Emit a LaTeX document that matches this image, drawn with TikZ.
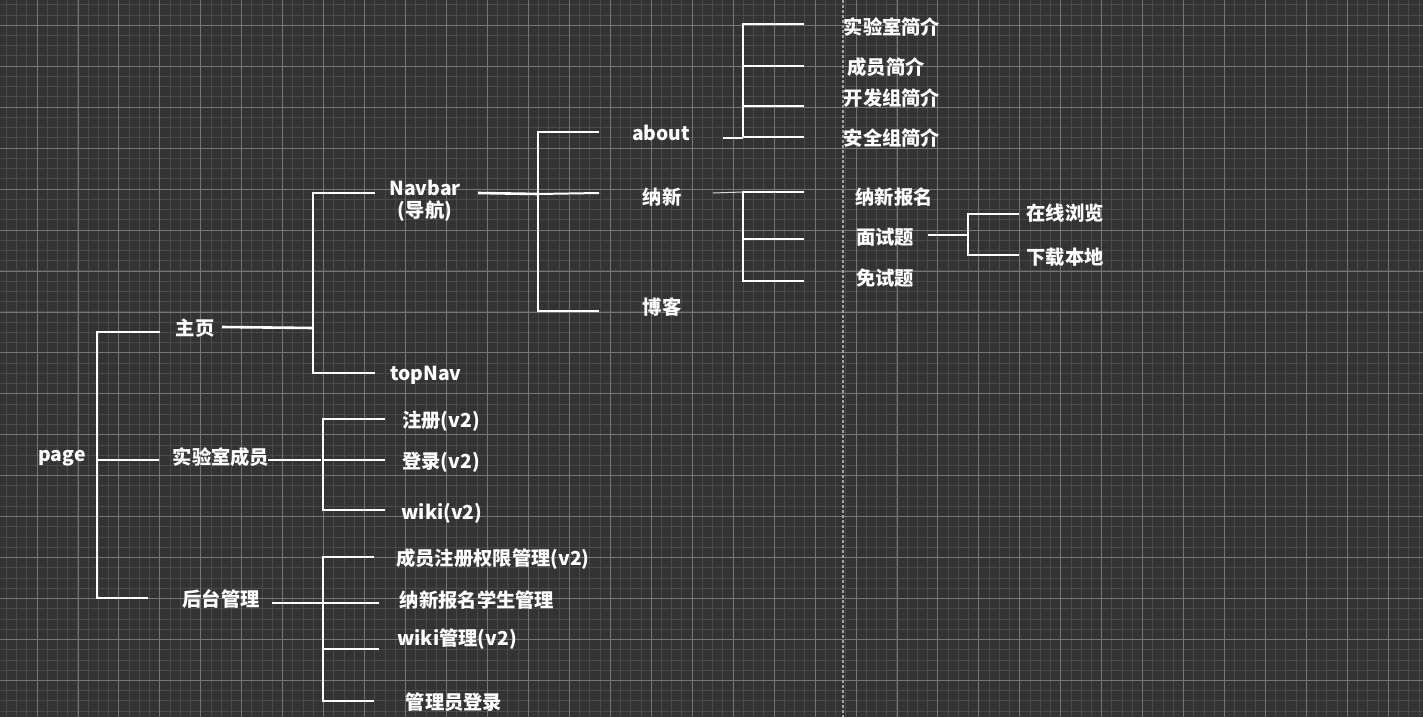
\documentclass[tikz,border=0pt]{standalone}
\usepackage{fontspec}
\setmainfont{Noto Sans CJK SC}
\begin{document}
\begin{tikzpicture}[x=1pt,y=-1pt,
  lbl/.style={text=white,font=\fontsize{19.3}{21}\selectfont\bfseries,inner sep=0pt,anchor=center,align=center},
  br/.style={draw=white,line width=2pt},
  stub/.style={draw=white,line width=2.6pt},
  thinstub/.style={draw=white!85!black,line width=1pt}]
\definecolor{bg}{HTML}{333333}
\definecolor{gminor}{HTML}{4A4A4A}
\definecolor{gmajor}{HTML}{767676}
\useasboundingbox (0,0) rectangle (1423,717);
\fill[bg] (0,0) rectangle (1423,717);
% minor grid
\foreach \i in {0,...,139} {
  \pgfmathsetmacro{\gx}{6.29+10.2375*\i}
  \draw[gminor,line width=1pt] (\gx,0) -- (\gx,717);
}
\foreach \i in {0,...,70} {
  \pgfmathsetmacro{\gy}{4.8+10.2375*\i}
  \draw[gminor,line width=1pt] (0,\gy) -- (1423,\gy);
}
% major grid
\foreach \i in {0,...,34} {
  \pgfmathsetmacro{\gx}{37+40.95*\i}
  \draw[gmajor,line width=0.9pt] (\gx,0) -- (\gx,717);
}
\foreach \i in {0,...,17} {
  \pgfmathsetmacro{\gy}{25.3+40.95*\i}
  \draw[gmajor,line width=0.9pt] (0,\gy) -- (1423,\gy);
}
% page break line
\draw[gray!70!white,line width=1.2pt,dash pattern=on 3pt off 2pt] (843,0) -- (843,717);

% labels
\node[lbl] (page) at (62,458) {page};
\node[lbl] (zhuye) at (195,328) {主页};
\node[lbl] (members) at (221,457) {实验室成员};
\node[lbl] (admin) at (221,599) {后台管理};
\node[lbl] (navbar) at (425,201) {Navbar\\[1pt](导航)};
\node[lbl] (topnav) at (426,375) {topNav};
\node[lbl] (about) at (661,133) {about};
\node[lbl] (nax) at (662,197) {纳新};
\node[lbl] (blog) at (662,307) {博客};
\node[lbl] (lab) at (892,27) {实验室简介};
\node[lbl] (mem) at (886,67) {成员简介};
\node[lbl] (dev) at (892,98) {开发组简介};
\node[lbl] (sec) at (892,138) {安全组简介};
\node[lbl] (signup) at (894,197) {纳新报名};
\node[lbl] (interview) at (885,237) {面试题};
\node[lbl] (exempt) at (885,278) {免试题};
\node[lbl] (online) at (1065,213) {在线浏览};
\node[lbl] (download) at (1065,257) {下载本地};
\node[lbl] (reg) at (441,421) {注册(v2)};
\node[lbl] (login) at (441,462) {登录(v2)};
\node[lbl] (wiki) at (442,513) {wiki(v2)};
\node[lbl] (perm) at (493,559) {成员注册权限管理(v2)};
\node[lbl] (stu) at (477,600) {纳新报名学生管理};
\node[lbl] (wikiadm) at (457,639) {wiki管理(v2)};
\node[lbl] (adminlogin) at (454,702) {管理员登录};

% coordinates: page bracket
\coordinate (aT) at (160,332); \coordinate (aTs) at (97,332);
\coordinate (aM) at (159,460); \coordinate (aMs) at (97,460);
\coordinate (aB) at (148,598); \coordinate (aBs) at (97,598);
\draw[br] (aT) -- (aTs) -- (aBs) -- (aB);
\draw[br] (aMs) -- (aM);

% 主页 bracket
\coordinate (zS) at (222,327); \coordinate (zSe) at (313,328);
\coordinate (zT) at (375,193); \coordinate (zTs) at (313,193);
\coordinate (zB) at (375,373); \coordinate (zBs) at (313,373);
\draw[stub] (zS) -- (zSe);
\draw[br] (zT) -- (zTs) -- (zBs) -- (zB);

% Navbar bracket
\coordinate (nS) at (478,193); \coordinate (nSe) at (538,194);
\coordinate (nT) at (599,132); \coordinate (nTs) at (538,132);
\coordinate (nM) at (599,193);
\coordinate (nB) at (599,311); \coordinate (nBs) at (538,311);
\draw[stub] (nS) -- (nSe);
\draw[br] (nT) -- (nTs) -- (nBs) -- (nB);
\draw[br] (nSe) -- (nM);

% about bracket
\coordinate (bS) at (723,138); \coordinate (bSe) at (743,138);
\coordinate (b1) at (804,24); \coordinate (b1s) at (743,24);
\coordinate (b2) at (804,66); \coordinate (b2s) at (743,66);
\coordinate (b3) at (804,106); \coordinate (b3s) at (743,106);
\coordinate (b4) at (804,137); \coordinate (b4s) at (743,137);
\draw[stub] (bS) -- (bSe);
\draw[br] (b1) -- (b1s) -- (b4s) -- (b4);
\draw[br] (b2s) -- (b2);
\draw[br] (b3s) -- (b3);

% 纳新 bracket
\coordinate (cS) at (713,193); \coordinate (cSe) at (743,192);
\coordinate (c1) at (804,192); \coordinate (c1s) at (743,192);
\coordinate (c2) at (804,239); \coordinate (c2s) at (743,239);
\coordinate (c3) at (804,281); \coordinate (c3s) at (743,281);
\draw[thinstub] (cS) -- (cSe);
\draw[br] (c1) -- (c1s) -- (c3s) -- (c3);
\draw[br] (c2s) -- (c2);

% 面试题 bracket
\coordinate (dS) at (928,235); \coordinate (dSe) at (968,235);
\coordinate (d1) at (1019,214); \coordinate (d1s) at (968,214);
\coordinate (d2) at (1019,255); \coordinate (d2s) at (968,255);
\draw[stub] (dS) -- (dSe);
\draw[br] (d1) -- (d1s) -- (d2s) -- (d2);

% 实验室成员 bracket
\coordinate (eS) at (268,460); \coordinate (eSe) at (321,460);
\coordinate (e1) at (385,419); \coordinate (e1s) at (323,419);
\coordinate (e2) at (385,460); \coordinate (e2s) at (323,460);
\coordinate (e3) at (385,510); \coordinate (e3s) at (323,510);
\draw[stub] (eS) -- (eSe);
\draw[br] (e1) -- (e1s) -- (e3s) -- (e3);
\draw[br] (e2s) -- (e2);

% 后台管理 bracket
\coordinate (fS) at (272,603); \coordinate (fSe) at (323,603);
\coordinate (f1) at (374,557); \coordinate (f1s) at (323,557);
\coordinate (f2) at (379,603);
\coordinate (f3) at (379,649); \coordinate (f3s) at (323,649);
\coordinate (f4) at (374,701); \coordinate (f4s) at (323,701);
\draw[br] (fS) -- (f2);
\draw[br] (f1) -- (f1s) -- (f4s) -- (f4);
\draw[br] (f3s) -- (f3);
\end{tikzpicture}
\end{document}
